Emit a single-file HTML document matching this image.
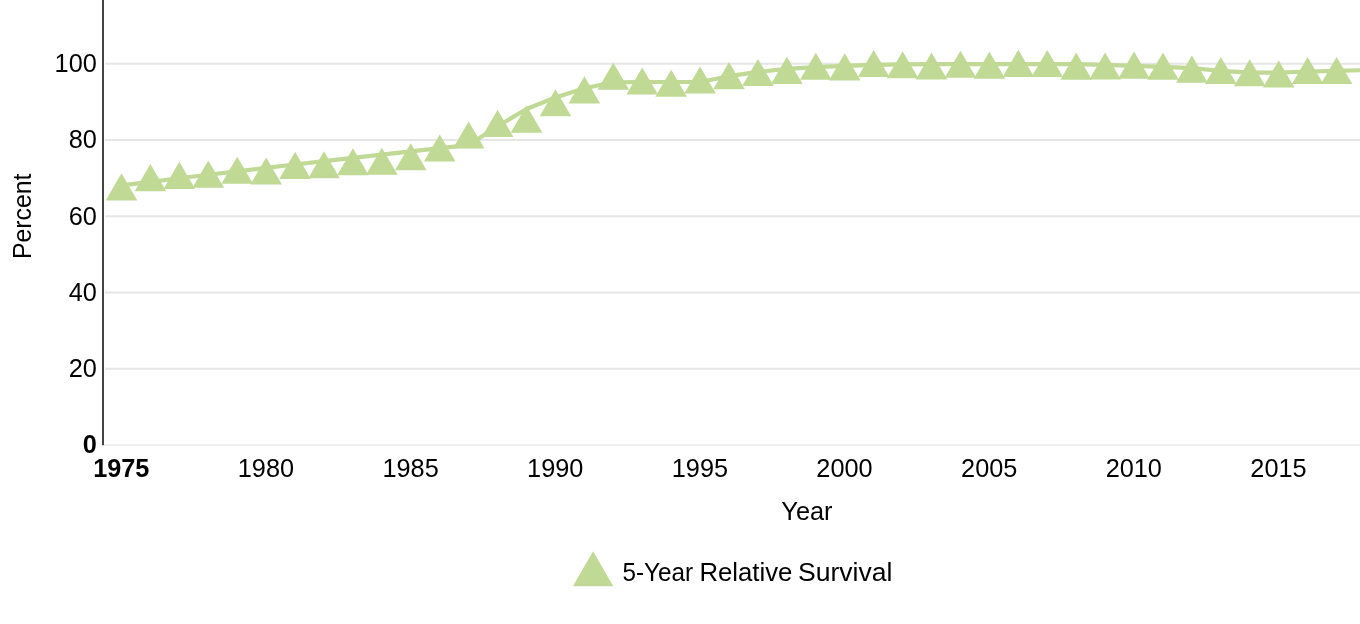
<!DOCTYPE html>
<html lang="en"><head><meta charset="utf-8"><title>5-Year Relative Survival</title>
<style>html,body{margin:0;padding:0;background:#fff;overflow:hidden}svg{display:block;will-change:transform}text{font-family:"Liberation Sans",Arial,Helvetica,sans-serif;fill:#000}</style></head><body>
<svg width="1360" height="624" viewBox="0 0 1360 624">
<rect width="1360" height="624" fill="#fff"/>
<line x1="105" x2="1360" y1="63.7" y2="63.7" stroke="#e6e6e6" stroke-width="2"/>
<line x1="105" x2="1360" y1="140.0" y2="140.0" stroke="#e6e6e6" stroke-width="2"/>
<line x1="105" x2="1360" y1="216.2" y2="216.2" stroke="#e6e6e6" stroke-width="2"/>
<line x1="105" x2="1360" y1="292.5" y2="292.5" stroke="#e6e6e6" stroke-width="2"/>
<line x1="105" x2="1360" y1="368.8" y2="368.8" stroke="#e6e6e6" stroke-width="2"/>
<line x1="104" x2="1360" y1="445.2" y2="445.2" stroke="#e6e6e6" stroke-width="1.3"/>
<line x1="103" x2="103" y1="0" y2="445.2" stroke="#444" stroke-width="2"/>
<polyline points="121.50,185.40 150.43,181.82 179.36,178.28 208.29,174.77 237.22,171.31 266.15,167.89 295.08,164.50 324.01,161.15 352.94,157.84 381.87,154.57 410.80,151.34 439.73,148.15 468.66,144.99 497.59,126.20 526.52,109.05 555.45,97.40 584.38,88.30 613.31,82.30 642.24,82.00 671.17,82.00 700.10,82.00 729.03,76.20 757.96,71.95 786.89,68.80 815.82,67.20 844.75,65.90 873.68,64.90 902.61,64.40 931.54,64.10 960.47,64.10 989.40,64.10 1018.33,64.10 1047.26,64.10 1076.19,64.10 1105.12,64.95 1134.05,65.80 1162.98,66.90 1191.91,68.10 1220.84,70.80 1249.77,72.60 1278.70,72.70 1307.63,71.50 1336.56,70.80 1365.49,70.10 1394.42,69.50" fill="none" stroke="#c0d995" stroke-width="4.2" stroke-linejoin="round"/>
<polygon points="121.50,173.30 137.30,200.40 105.70,200.40" fill="#c0d995"/>
<polygon points="150.43,164.10 166.23,191.20 134.63,191.20" fill="#c0d995"/>
<polygon points="179.36,161.85 195.16,188.95 163.56,188.95" fill="#c0d995"/>
<polygon points="208.29,160.60 224.09,187.70 192.49,187.70" fill="#c0d995"/>
<polygon points="237.22,156.70 253.02,183.80 221.42,183.80" fill="#c0d995"/>
<polygon points="266.15,157.45 281.95,184.55 250.35,184.55" fill="#c0d995"/>
<polygon points="295.08,151.80 310.88,178.90 279.28,178.90" fill="#c0d995"/>
<polygon points="324.01,151.25 339.81,178.35 308.21,178.35" fill="#c0d995"/>
<polygon points="352.94,148.25 368.74,175.35 337.14,175.35" fill="#c0d995"/>
<polygon points="381.87,147.75 397.67,174.85 366.07,174.85" fill="#c0d995"/>
<polygon points="410.80,143.25 426.60,170.35 395.00,170.35" fill="#c0d995"/>
<polygon points="439.73,134.50 455.53,161.60 423.93,161.60" fill="#c0d995"/>
<polygon points="468.66,121.40 484.46,148.50 452.86,148.50" fill="#c0d995"/>
<polygon points="497.59,109.80 513.39,136.90 481.79,136.90" fill="#c0d995"/>
<polygon points="526.52,105.55 542.32,132.65 510.72,132.65" fill="#c0d995"/>
<polygon points="555.45,89.20 571.25,116.30 539.65,116.30" fill="#c0d995"/>
<polygon points="584.38,76.30 600.18,103.40 568.58,103.40" fill="#c0d995"/>
<polygon points="613.31,62.70 629.11,89.80 597.51,89.80" fill="#c0d995"/>
<polygon points="642.24,67.40 658.04,94.50 626.44,94.50" fill="#c0d995"/>
<polygon points="671.17,69.70 686.97,96.80 655.37,96.80" fill="#c0d995"/>
<polygon points="700.10,66.50 715.90,93.60 684.30,93.60" fill="#c0d995"/>
<polygon points="729.03,62.10 744.83,89.20 713.23,89.20" fill="#c0d995"/>
<polygon points="757.96,58.90 773.76,86.00 742.16,86.00" fill="#c0d995"/>
<polygon points="786.89,56.80 802.69,83.90 771.09,83.90" fill="#c0d995"/>
<polygon points="815.82,52.70 831.62,79.80 800.02,79.80" fill="#c0d995"/>
<polygon points="844.75,53.35 860.55,80.45 828.95,80.45" fill="#c0d995"/>
<polygon points="873.68,50.00 889.48,77.10 857.88,77.10" fill="#c0d995"/>
<polygon points="902.61,51.20 918.41,78.30 886.81,78.30" fill="#c0d995"/>
<polygon points="931.54,52.50 947.34,79.60 915.74,79.60" fill="#c0d995"/>
<polygon points="960.47,50.70 976.27,77.80 944.67,77.80" fill="#c0d995"/>
<polygon points="989.40,51.70 1005.20,78.80 973.60,78.80" fill="#c0d995"/>
<polygon points="1018.33,49.80 1034.13,76.90 1002.53,76.90" fill="#c0d995"/>
<polygon points="1047.26,50.00 1063.06,77.10 1031.46,77.10" fill="#c0d995"/>
<polygon points="1076.19,52.60 1091.99,79.70 1060.39,79.70" fill="#c0d995"/>
<polygon points="1105.12,52.50 1120.92,79.60 1089.32,79.60" fill="#c0d995"/>
<polygon points="1134.05,51.60 1149.85,78.70 1118.25,78.70" fill="#c0d995"/>
<polygon points="1162.98,52.60 1178.78,79.70 1147.18,79.70" fill="#c0d995"/>
<polygon points="1191.91,55.60 1207.71,82.70 1176.11,82.70" fill="#c0d995"/>
<polygon points="1220.84,56.90 1236.64,84.00 1205.04,84.00" fill="#c0d995"/>
<polygon points="1249.77,59.20 1265.57,86.30 1233.97,86.30" fill="#c0d995"/>
<polygon points="1278.70,60.40 1294.50,87.50 1262.90,87.50" fill="#c0d995"/>
<polygon points="1307.63,57.00 1323.43,84.10 1291.83,84.10" fill="#c0d995"/>
<polygon points="1336.56,57.00 1352.36,84.10 1320.76,84.10" fill="#c0d995"/>
<text transform="translate(96.8,72.0) scale(1.0,1.03)" font-size="25.3" text-anchor="end">100</text>
<text transform="translate(96.8,148.3) scale(1.0,1.03)" font-size="25.3" text-anchor="end">80</text>
<text transform="translate(96.8,224.5) scale(1.0,1.03)" font-size="25.3" text-anchor="end">60</text>
<text transform="translate(96.8,300.8) scale(1.0,1.03)" font-size="25.3" text-anchor="end">40</text>
<text transform="translate(96.8,377.1) scale(1.0,1.03)" font-size="25.3" text-anchor="end">20</text>
<text transform="translate(96.8,453.1) scale(1.0,1.0)" font-size="25.3" text-anchor="end" font-weight="bold">0</text>
<text transform="translate(121.3,477.4) scale(1.0,1.03)" font-size="25.3" text-anchor="middle" font-weight="bold">1975</text>
<text transform="translate(265.9,477.4) scale(1.0,1.03)" font-size="25.3" text-anchor="middle">1980</text>
<text transform="translate(410.6,477.4) scale(1.0,1.03)" font-size="25.3" text-anchor="middle">1985</text>
<text transform="translate(555.2,477.4) scale(1.0,1.03)" font-size="25.3" text-anchor="middle">1990</text>
<text transform="translate(699.9,477.4) scale(1.0,1.03)" font-size="25.3" text-anchor="middle">1995</text>
<text transform="translate(844.5,477.4) scale(1.0,1.03)" font-size="25.3" text-anchor="middle">2000</text>
<text transform="translate(989.2,477.4) scale(1.0,1.03)" font-size="25.3" text-anchor="middle">2005</text>
<text transform="translate(1133.8,477.4) scale(1.0,1.03)" font-size="25.3" text-anchor="middle">2010</text>
<text transform="translate(1278.5,477.4) scale(1.0,1.03)" font-size="25.3" text-anchor="middle">2015</text>
<text transform="translate(30.5,216.3) rotate(-90) scale(0.982,1.05)" font-size="25.3" text-anchor="middle">Percent</text>
<text transform="translate(806.9,520) scale(1.0,1.04)" font-size="25.3" text-anchor="middle">Year</text>
<polygon points="593.1,551.2 613.3,586.3 572.9,586.3" fill="#c0d995"/>
<text y="580.6" font-size="26.5"><tspan x="622.4" textLength="70.6" lengthAdjust="spacingAndGlyphs">5-Year</tspan> <tspan x="699.4" textLength="93" lengthAdjust="spacingAndGlyphs">Relative</tspan> <tspan x="798" textLength="94.4" lengthAdjust="spacingAndGlyphs">Survival</tspan></text>
</svg></body></html>
